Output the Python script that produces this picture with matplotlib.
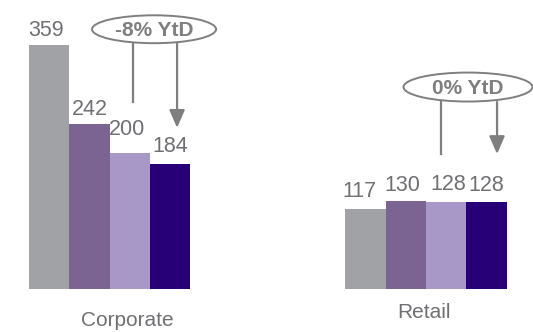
import numpy as np
import matplotlib
matplotlib.use("Agg")
from matplotlib import pyplot as plt
from matplotlib.patches import Ellipse

plt.rcParams['font.family'] = ['Liberation Sans', 'DejaVu Sans']

# data
groups = ["Corporate", "Retail"]
corporate = [359, 242, 200, 184]
retail = [117, 130, 128, 128]
ytd_labels = ["-8% YtD", "0% YtD"]

bar_colors = ["#A1A2A6", "#7B6491", "#A898C8", "#270078"]
text_grey = "#707074"
line_grey = "#7F7F7F"

# layout (bar units / value units)
group_x = [0.0, 7.83]
label_off = [[(-3, 14), (0.5, 15), (-3, 24), (0.5, 17)],
             [(-6, 18), (-3, 15), (2, 17), (0, 16)]]

fig = plt.figure(figsize=(5.33, 3.32), dpi=100)
ax = fig.add_axes([0, 0, 1, 1])
ax.set_xlim(-1.213, 11.98)
ax.set_ylim(-63.2, 425)
ax.axis('off')

for g, vals in enumerate([corporate, retail]):
    xs = group_x[g] + np.arange(len(vals))
    ax.bar(xs, vals, width=1.0, color=bar_colors, linewidth=0)
    for i, (x, v) in enumerate(zip(xs, vals)):
        dx, dy = label_off[g][i]
        ax.annotate(str(v), xy=(x, v), xytext=(dx, dy), textcoords='offset pixels',
                    ha='center', va='center', fontsize=15.5, color=text_grey)

# category labels
ax.text(1.94, -45.6, groups[0], ha='center', va='center', fontsize=15, color=text_grey)
ax.text(9.28, -34.6, groups[1], ha='center', va='center', fontsize=15, color=text_grey)

# YtD callouts: ellipse centre, size, line x, arrow x, top, bottom
callouts = [
    dict(c=(2.60, 382), w=3.07, h=41, lx=2.08, ax=3.17, top=361, lbot=275, abot=237),
    dict(c=(10.37, 297), w=3.19, h=42.6, lx=9.70, ax=11.09, top=275, lbot=198.5, abot=198.5),
]
for txt, co in zip(ytd_labels, callouts):
    ax.add_patch(Ellipse(co['c'], co['w'], co['h'], facecolor='white',
                         edgecolor=line_grey, linewidth=1.4, zorder=3))
    ax.text(co['c'][0], co['c'][1] - 2, txt, ha='center', va='center', fontsize=15,
            fontweight='bold', color=line_grey, zorder=4)
    ax.plot([co['lx'], co['lx']], [co['top'], co['lbot']], color=line_grey, lw=1.6)
    ax.annotate('', xy=(co['ax'], co['abot']), xytext=(co['ax'], co['top']),
                arrowprops=dict(arrowstyle='-|>,head_length=1.08,head_width=0.47',
                                mutation_scale=10, color=line_grey, lw=1.6,
                                shrinkA=0, shrinkB=0))

fig.savefig("out.png", dpi=100)
